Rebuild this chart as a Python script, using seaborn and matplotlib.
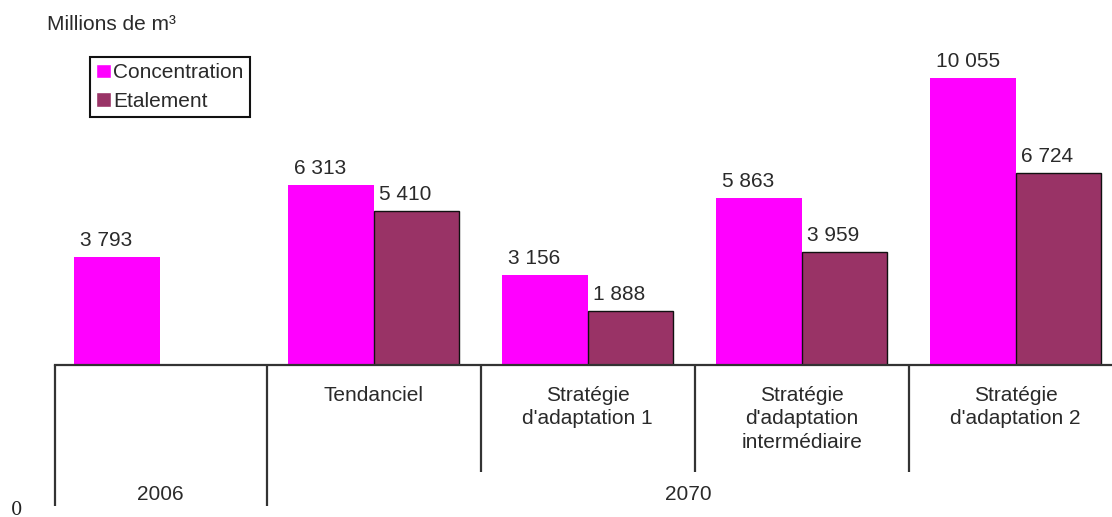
import pandas as pd
import numpy as np
import matplotlib
matplotlib.use("Agg")
import matplotlib.pyplot as plt
import matplotlib.transforms as mtransforms
import seaborn as sns

# data (millions de m3)
groups = ["2006", "Tendanciel", "Stratégie\nd'adaptation 1",
          "Stratégie\nd'adaptation\nintermédiaire", "Stratégie\nd'adaptation 2"]
concentration = [3793, 6313, 3156, 5863, 10055]
etalement = [np.nan, 5410, 1888, 3959, 6724]
series = ["Concentration", "Etalement"]
tick_labels = ["", "Tendanciel", "Stratégie\nd'adaptation 1",
               "Stratégie\nd'adaptation\nintermédiaire", "Stratégie\nd'adaptation 2"]
periods = ["2006", "2070"]

df = pd.DataFrame({
    "groupe": groups * 2,
    "serie": [series[0]] * 5 + [series[1]] * 5,
    "valeur": concentration + etalement,
}).dropna()

sns.set_theme(style="white")
plt.rcParams["font.family"] = ["Liberation Sans", "DejaVu Sans"]
txt = "#2a2a2a"
fs = 15

fig = plt.figure(figsize=(11.12, 5.17), dpi=100)
# axes: left edge at 55 px, baseline at 365 px, top at 20 px
ax = fig.add_axes([55 / 1112, 152 / 517, 1057 / 1112, 345 / 517])

palette = {"Concentration": "#FF00FF", "Etalement": "#993366"}
sns.barplot(data=df, x="groupe", y="valeur", hue="serie", order=groups,
            hue_order=series, palette=palette, errorbar=None, width=0.8,
            saturation=1, ax=ax, legend=True)

# edges: dark outline on Etalement only
for cont, name in zip(ax.containers, series):
    for bar in cont:
        if name == "Etalement":
            bar.set_edgecolor("#111111")
            bar.set_linewidth(1.0)
        else:
            bar.set_edgecolor("none")

ax.set_xlim(-0.49, 4.45)
ax.set_ylim(0, 12100)
ax.set_xlabel("")
ax.set_ylabel("")
ax.set_yticks([])
ax.set_xticks(range(len(groups)))
ax.set_xticklabels(tick_labels, fontsize=fs, color=txt, va="top", linespacing=1.3)
ax.tick_params(axis="x", length=0, pad=15)
for s in ["left", "right", "top"]:
    ax.spines[s].set_visible(False)
ax.spines["bottom"].set_color("#333333")
ax.spines["bottom"].set_linewidth(1.6)

# value labels, left aligned above each bar
for cont in ax.containers:
    for bar in cont:
        h = bar.get_height()
        if np.isnan(h) or h == 0:
            continue
        ax.annotate(f"{int(round(h)):,}".replace(",", " "),
                    (bar.get_x(), h), xytext=(4, 5), textcoords="offset points",
                    ha="left", va="bottom", fontsize=fs, color=txt)

# divider lines under the axis
trans = mtransforms.blended_transform_factory(ax.transData, ax.transAxes)
for xpos, ybot in [(-0.49, -0.41), (0.5, -0.41), (1.5, -0.31), (2.5, -0.31), (3.5, -0.31)]:
    ax.plot([xpos, xpos], [0, ybot], transform=trans, color="#333333",
            lw=1.6, clip_on=False, solid_capstyle="butt")

ax.text(0, -0.375, periods[0], transform=trans, ha="center", va="center",
        fontsize=fs, color=txt)
ax.text(2.47, -0.375, periods[1], transform=trans, ha="center", va="center",
        fontsize=fs, color=txt)

# legend
handles, labels = ax.get_legend_handles_labels()
ax.legend(handles, labels, loc="upper left", bbox_to_anchor=(90 / 1112, 1 - 57 / 517),
          bbox_transform=fig.transFigure, borderaxespad=0, fancybox=False,
          frameon=True, edgecolor="#111111", fontsize=fs, handlelength=0.72,
          handleheight=0.72, handletextpad=0.1, borderpad=0.3, labelspacing=0.45,
          labelcolor=txt, framealpha=1)
ax.get_legend().get_frame().set_linewidth(1.5)

fig.text(47 / 1112, 1 - 30 / 517, "Millions de m³", ha="left", va="baseline",
         fontsize=fs, color=txt)
fig.text(17 / 1112, 7 / 517, "0", ha="center", va="center", fontsize=13,
         color="#222222", family="DejaVu Serif")

fig.savefig("out.png", dpi=100, facecolor="white")
